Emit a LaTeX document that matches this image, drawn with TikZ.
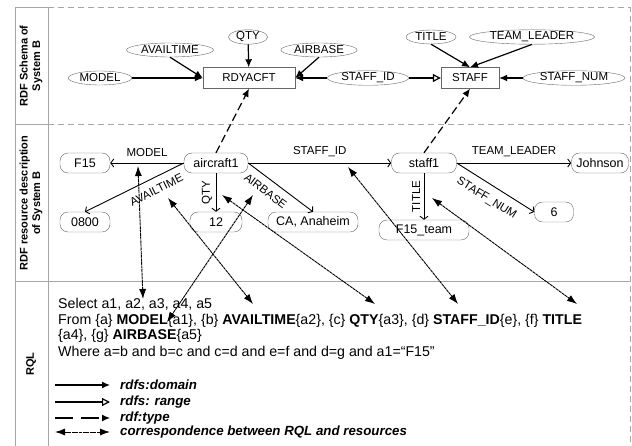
\documentclass[tikz,border=0pt]{standalone}
\usepackage{fontspec}
\setmainfont{Liberation Sans}
\usetikzlibrary{shapes.geometric,arrows.meta}

\begin{document}
\begin{tikzpicture}[x=1pt,y=-1pt,
  prop/.style={ellipse,draw=black!60,inner xsep=2pt,inner ysep=0pt,minimum height=14pt,font=\fontsize{11.5}{13}\selectfont},
  clase/.style={rectangle,draw=black!60,minimum height=21pt,font=\fontsize{11.5}{13}\selectfont},
  rec/.style={rectangle,rounded corners=8pt,draw=black!60,minimum height=20pt,inner sep=1pt,font=\fontsize{12.5}{14}\selectfont},
  etq/.style={font=\fontsize{11.5}{13}\selectfont,inner sep=1.5pt},
  dom/.style={-{Latex[length=8pt,width=7pt]},line width=1.2pt},
  rng/.style={-{Triangle[open,length=8pt,width=8pt]},line width=1.2pt},
  tipo/.style={-{Latex[length=8pt,width=7pt]},line width=1.2pt,dash pattern=on 8pt off 4pt},
  arco/.style={-{Straight Barb[length=3pt,width=8pt]},line width=0.9pt},
  corr/.style={{Latex[length=10pt,width=7pt]}-{Latex[length=10pt,width=7pt]},line width=0.9pt,dash pattern=on 3pt off 0.6pt},
  marco/.style={gray!70,line width=1pt},
  rql/.style={anchor=base west,inner sep=0pt,font=\fontsize{14.2}{16}\selectfont},
  ley/.style={anchor=west,inner sep=0pt,font=\fontsize{13.3}{15}\selectfont\bfseries\itshape},
  fila/.style={rotate=90,align=center,font=\fontsize{11}{12.5}\selectfont\bfseries}]
\useasboundingbox (0,0) rectangle (632,446);
% Marco
\draw[marco] (15,446) -- (15,8) -- (48,8) -- (48,446);
\draw[marco] (15,125) -- (48,125);
\draw[marco] (15,282) -- (630,282);
\draw[gray!70,line width=1pt,dash pattern=on 6pt off 4pt] (48,8) -- (630,8) -- (630,446);
\draw[gray!70,line width=1pt,dash pattern=on 6pt off 4pt] (48,125) -- (630,125);
\node[fila] (f1) at (31,66) {RDF Schema of\\System B};
\node[fila] (f2) at (31,203) {RDF resource description\\of System B};
\node[fila] (f3) at (31,364) {RQL};
% Esquema
\node[clase,minimum width=92pt] (rdy) at (249,78) {RDYACFT};
\node[clase,minimum width=58pt] (staff) at (470,78) {STAFF};
\node[prop] (pmodel) at (100,78) {MODEL};
\node[prop] (pavail) at (170,50) {AVAILTIME};
\node[prop] (pqty) at (248,37) {QTY};
\node[prop] (pair) at (319,50) {AIRBASE};
\node[prop] (pstaffid) at (368,78) {STAFF\_ID};
\node[prop] (ptitle) at (431,37) {TITLE};
\node[prop] (pleader) at (532,37) {TEAM\_LEADER};
\node[prop] (pnum) at (574,78) {STAFF\_NUM};
\draw[dom] (pmodel) -- (rdy);
\draw[dom] (pavail.south) -- (rdy.west);
\draw[dom] (pqty) -- (rdy);
\draw[dom] (pair.south) -- (rdy.east);
\draw[dom] (pstaffid) -- (rdy);
\draw[rng] (pstaffid) -- (staff);
\draw[dom] (ptitle.south) -- (staff.north);
\draw[dom] (pleader.south) -- (staff.north);
\draw[dom] (pnum) -- (staff);
% Recursos
\node[rec,minimum width=50pt] (f15) at (85,163) {F15};
\node[rec,minimum width=64pt] (air) at (216,163) {aircraft1};
\node[rec,minimum width=50pt] (t0800) at (85,222) {0800};
\node[rec,minimum width=52pt] (n12) at (216,222) {12};
\node[rec,minimum width=90pt] (ca) at (313,222) {CA, Anaheim};
\node[rec,minimum width=65pt] (st1) at (424,163) {staff1};
\node[rec,minimum width=57pt] (john) at (600,163) {Johnson};
\node[rec,minimum width=39pt] (n6) at (554,212) {6};
\node[rec,minimum width=90pt] (team) at (424,230) {F15\_team};
\draw[arco] (air) -- node[etq,above=4pt] {MODEL} (f15);
\draw[arco] (air.west) -- node[etq,sloped,below=6pt,pos=0.33] {AVAILTIME} (t0800.north);
\draw[arco] (air) -- node[etq,rotate=90,anchor=south,inner ysep=3.5pt] {QTY} (n12);
\draw[arco] (air.east) -- node[etq,sloped,below=6pt,pos=0.38] {AIRBASE} (ca.north);
\draw[arco] (air) -- node[etq,above=4pt] {STAFF\_ID} (st1);
\draw[arco] (st1) -- node[etq,above=4pt] {TEAM\_LEADER} (john);
\draw[arco] (st1.east) -- node[etq,sloped,below=7pt,pos=0.48] {STAFF\_NUM} (n6.west);
\draw[arco] (st1) -- node[etq,rotate=90,anchor=south,inner ysep=3.5pt] {TITLE} (team);
% rdf:type
\draw[tipo] (air.north) -- (rdy.south);
\draw[tipo] (st1.north) -- (staff.south);
% RQL
\node[rql] (sel) at (58,309) {Select a1, a2, a3, a4, a5};
\node[rql] (from) at (58,325) {From \{a\} \textbf{MODEL}\{a1\}, \{b\} \textbf{AVAILTIME}\{a2\}, \{c\} \textbf{QTY}\{a3\}, \{d\} \textbf{STAFF\_ID}\{e\}, \{f\} \textbf{TITLE}};
\node[rql] (from2) at (58,340) {\{a4\}, \{g\} \textbf{AIRBASE}\{a5\}};
\node[rql] (where) at (58,356) {Where a=b and b=c and c=d and e=f and d=g and a1=“F15”};
% Correspondencias
\coordinate (rModel) at (138,166);
\coordinate (qModel) at (143,299);
\coordinate (rAvail) at (168,198);
\coordinate (qAvail) at (253,304);
\coordinate (rAir) at (253,195);
\coordinate (qAir) at (167,322);
\coordinate (rQty) at (222,195);
\coordinate (qQty) at (375,304);
\coordinate (rStaffId) at (348,167);
\coordinate (qStaffId) at (458,304);
\coordinate (rTitle) at (432,198);
\coordinate (qTitle) at (577,304);
\draw[corr] (rModel) -- (qModel);
\draw[corr] (rAvail) -- (qAvail);
\draw[corr] (rAir) -- (qAir);
\draw[corr] (rQty) -- (qQty);
\draw[corr] (rStaffId) -- (qStaffId);
\draw[corr] (rTitle) -- (qTitle);
% Leyenda
\node[ley] (ldom) at (120,385) {rdfs:domain};
\node[ley] (lrng) at (120,402) {rdfs: range};
\node[ley] (ltipo) at (120,418) {rdf:type};
\node[ley] (lcorr) at (120,432) {correspondence between RQL and resources};
\coordinate (d0) at (55,385);
\coordinate (d1) at (110,385);
\coordinate (r0) at (55,402);
\coordinate (r1) at (110,402);
\coordinate (t0) at (55,418);
\coordinate (t1) at (110,418);
\coordinate (c0) at (55,432);
\coordinate (c1) at (110,432);
\draw[dom] (d0) -- (d1);
\draw[rng] (r0) -- (r1);
\draw[tipo,dash pattern=on 18pt off 8pt] (t0) -- (t1);
\draw[corr] (c0) -- (c1);
\end{tikzpicture}
\end{document}
